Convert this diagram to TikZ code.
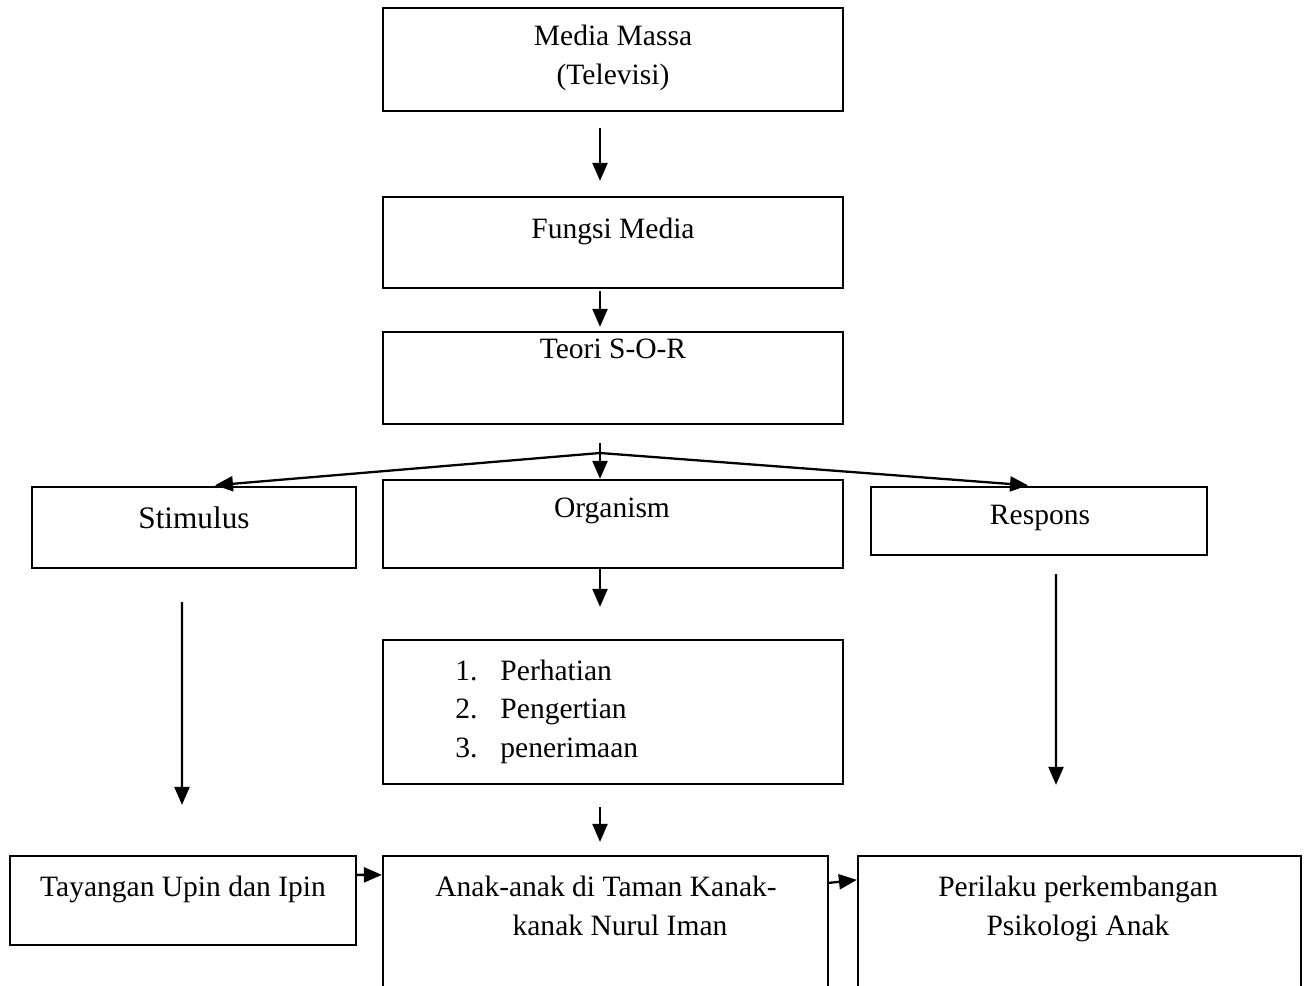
\documentclass[tikz,border=0pt]{standalone}
\usepackage{fontspec}
\setmainfont{Liberation Serif}
\usetikzlibrary{arrows.meta,calc}

\tikzset{
  box/.style={draw, line width=1.3pt, inner sep=0pt},
  txt/.style={font=\fontsize{16.8}{22.2}\selectfont, align=center, inner sep=0pt},
  arr/.style={line width=1.3pt, -{Triangle[length=0.36cm,width=0.3cm]}},
}

\begin{document}
\begin{tikzpicture}[x=0.02cm, y=-0.02cm]
  \useasboundingbox (0,0) rectangle (1304,986);
  % boxes
  \node[box, minimum width=9.2cm, minimum height=2.06cm] (media) at (613,59.5) {};
  \node[box, minimum width=9.2cm, minimum height=1.82cm] (fungsi) at (613,242.5) {};
  \node[box, minimum width=9.2cm, minimum height=1.84cm] (teori) at (613,378) {};
  \node[box, minimum width=6.48cm, minimum height=1.62cm] (stimulus) at (194,527.5) {};
  \node[box, minimum width=9.2cm, minimum height=1.76cm] (organism) at (613,524) {};
  \node[box, minimum width=6.72cm, minimum height=1.36cm] (respons) at (1039,521) {};
  \node[box, minimum width=9.2cm, minimum height=2.88cm] (proses) at (613,712) {};
  \node[box, minimum width=6.92cm, minimum height=1.78cm] (tayangan) at (183,900.5) {};
  \node[box, minimum width=8.9cm, minimum height=2.88cm] (anak) at (605.5,928) {};
  \node[box, minimum width=8.86cm, minimum height=2.88cm] (perilaku) at (1079.5,928) {};
  % texts
  \node[txt] (mediatxt) at (613,57.5) {Media Massa\\(Televisi)};
  \node[txt] (fungsitxt) at (613,231) {Fungsi Media};
  \node[txt] (teoritxt) at (613,349) {Teori S-O-R};
  \node[txt, font=\fontsize{17.8}{22}\selectfont] (stimulustxt) at (194,518) {Stimulus};
  \node[txt] (organismtxt) at (612,511) {Organism};
  \node[txt] (responstxt) at (1040,518) {Respons};
  \foreach \i/\t in {1/Perhatian,2/Pengertian,3/penerimaan}
    \node[txt, anchor=base west] (item\i) at (455,{641.5+38.5*\i}) {\i.\hspace{0.46cm}\t};
  \node[txt] (anaktxt) at (606,886.5) {Anak-anak di Taman Kanak-};
  \node[txt] (anaktxtb) at (620,925) {kanak Nurul Iman};
  \node[txt] (tayangantxt) at (183,889) {Tayangan Upin dan Ipin};
  \node[txt] (perilakutxt) at (1078,909) {Perilaku perkembangan\\Psikologi Anak};
  % arrows
  \coordinate (mid) at (600,0);
  \coordinate (split) at (600,453);
  \draw[arr, shorten <=0.32cm, shorten >=0.3cm] (media.south -| mid) -- (fungsi.north -| mid);
  \draw[arr, shorten <=0.04cm, shorten >=0.08cm] (fungsi.south -| mid) -- (teori.north -| mid);
  \draw[arr, shorten <=0.36cm] (teori.south -| mid) -- (organism.north -| mid);
  \draw[arr, shorten >=0.14cm] (split) -- ([xshift=0.28cm]stimulus.north);
  \draw[arr, shorten >=0.14cm] (split) -- ([xshift=-0.08cm]respons.north);
  \draw[arr, shorten >=0.64cm] (organism.south -| mid) -- (proses.north -| mid);
  \draw[arr, shorten <=0.44cm, shorten >=0.26cm] (proses.south -| mid) -- (anak.north -| mid);
  \draw[arr, shorten <=0.66cm, shorten >=1cm] ([xshift=-0.24cm]stimulus.south) -- ([xshift=-0.02cm]tayangan.north);
  \draw[arr, shorten <=0.36cm, shorten >=1.4cm] ([xshift=0.34cm]respons.south) -- ([xshift=-0.47cm]perilaku.north);
  \draw[arr] ([yshift=-0.4cm]tayangan.north east) -- ([yshift=-0.4cm]anak.north west);
  \draw[arr] ([yshift=-0.56cm]anak.north east) -- ([yshift=-0.5cm]perilaku.north west);
\end{tikzpicture}
\end{document}
